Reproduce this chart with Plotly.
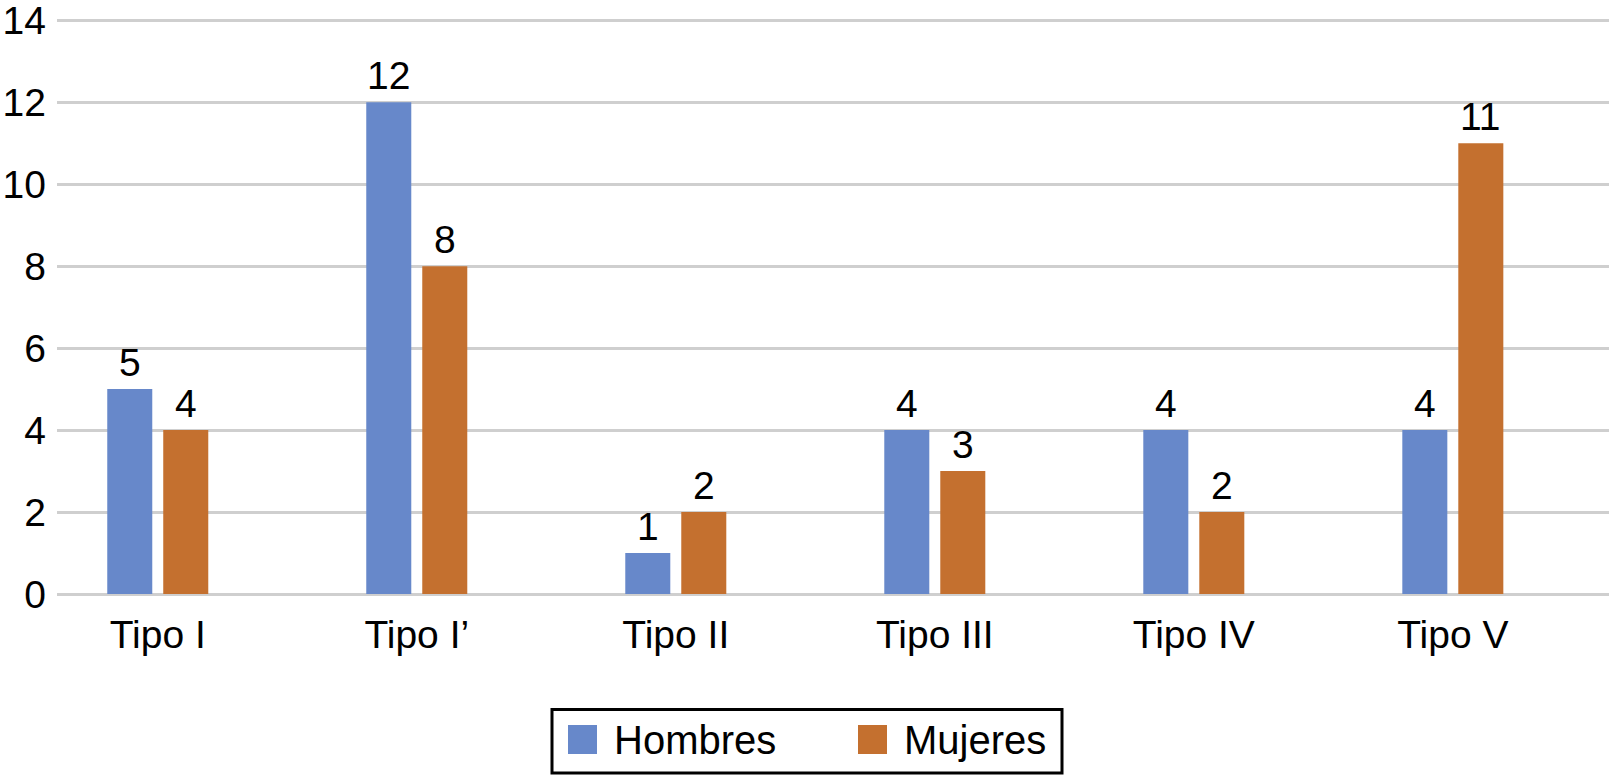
import plotly.graph_objects as go

categories = ["Tipo I", "Tipo I’", "Tipo II", "Tipo III", "Tipo IV", "Tipo V"]
hombres = [5, 12, 1, 4, 4, 4]
mujeres = [4, 8, 2, 3, 2, 11]
series_names = ["Hombres", "Mujeres"]
y_ticks = [0, 2, 4, 6, 8, 10, 12, 14]

BLUE = "#6788CA"
ORANGE = "#C4702F"
FONT = "Liberation Sans, Arial, Helvetica, sans-serif"

W, H = 1609, 775
ML, MR, MT, MB = 57, 0, 19, 181
PW = W - ML - MR
PH = H - MT - MB

fig = go.Figure()
fig.add_trace(go.Bar(x=categories, y=hombres, name=series_names[0],
                     marker=dict(color=BLUE, line=dict(width=0)), showlegend=False))
fig.add_trace(go.Bar(x=categories, y=mujeres, name=series_names[1],
                     marker=dict(color=ORANGE, line=dict(width=0)), showlegend=False))

annotations = []
for vals, shift in ((hombres, -28), (mujeres, 28)):
    for c, v in zip(categories, vals):
        annotations.append(dict(x=c, y=v, xref="x", yref="y", text=str(v),
                                showarrow=False, xshift=shift, yshift=3,
                                yanchor="bottom", xanchor="center",
                                font=dict(size=39, color="black", family=FONT)))

def px_x(p):
    return (p - ML) / PW

def px_y(p):
    return (H - MB - p) / PH

shapes = [
    dict(type="rect", xref="paper", yref="paper",
         x0=px_x(552), x1=px_x(1062), y0=px_y(709.5), y1=px_y(773),
         line=dict(color="black", width=3), fillcolor="white", layer="above"),
    dict(type="rect", xref="paper", yref="paper",
         x0=px_x(568), x1=px_x(597), y0=px_y(725), y1=px_y(754),
         line=dict(width=0), fillcolor=BLUE, layer="above"),
    dict(type="rect", xref="paper", yref="paper",
         x0=px_x(858), x1=px_x(887), y0=px_y(725), y1=px_y(754),
         line=dict(width=0), fillcolor=ORANGE, layer="above"),
]
for name, lx in ((series_names[0], 612), (series_names[1], 902)):
    annotations.append(dict(x=px_x(lx), y=px_y(739.5), xref="paper", yref="paper",
                            text=name, showarrow=False, xanchor="left", yanchor="middle",
                            font=dict(size=40, color="black", family=FONT)))

fig.update_layout(
    width=W, height=H,
    margin=dict(l=ML, r=MR, t=MT, b=MB, pad=0),
    paper_bgcolor="white", plot_bgcolor="white",
    barmode="group", bargap=0.5676, bargroupgap=0.196,
    showlegend=False,
    font=dict(family=FONT, size=39, color="black"),
    xaxis=dict(type="category", range=[-0.389, 5.603], showgrid=False,
               showline=False, zeroline=False, ticks="", ticklabelstandoff=14,
               tickfont=dict(size=39, color="black", family=FONT)),
    yaxis=dict(range=[0, 14.03], tickvals=y_ticks, showgrid=True, gridcolor="#CFCFCF",
               gridwidth=3, zeroline=True, zerolinecolor="#CFCFCF", zerolinewidth=3,
               showline=False, ticks="", ticklabelstandoff=10,
               ticklabeloverflow="allow",
               tickfont=dict(size=39, color="black", family=FONT)),
    annotations=annotations,
    shapes=shapes,
)

fig.write_html("out.html",
               config={"displayModeBar": False, "staticPlot": True},
               post_script="document.body.style.margin='0px';document.body.style.overflow='hidden';")
